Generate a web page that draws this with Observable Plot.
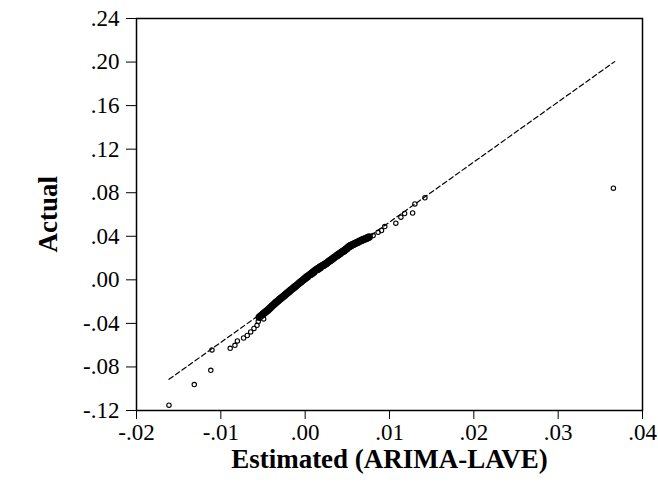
<!DOCTYPE html>
<html><head>
<meta charset="utf-8">
<script src="https://cdn.jsdelivr.net/npm/d3@7"></script>
<script src="https://cdn.jsdelivr.net/npm/@observablehq/plot@0.6"></script>
<style>body{margin:0;background:#fff}</style>
</head><body><div id="chart"></div>
<script>
// Lower tail (sparse points)
const lowerX = [-0.01615,-0.01315,-0.01119,-0.01105,-0.00889,-0.00833,-0.00804,-0.00730,-0.00687,-0.00646,-0.00607,-0.00571,-0.00556,-0.00492];
const lowerY = [-0.1151,-0.0962,-0.0831,-0.0644,-0.0629,-0.0601,-0.0561,-0.0534,-0.0511,-0.0478,-0.0446,-0.0418,-0.0382,-0.0359];
// Dense central body
const bodyX = [-0.00545,-0.00530,-0.00515,-0.00500,-0.00485,-0.00470,-0.00455,-0.00440,
 -0.00425,-0.00410,-0.00395,-0.00380,-0.00365,-0.00350,
 -0.00335,-0.00320,-0.00305,-0.00290,-0.00275,-0.00260,-0.00245,-0.00230,
 -0.00215,-0.00200,-0.00185,-0.00170,-0.00155,-0.00140,-0.00125,-0.00110,
 -0.00095,-0.00080,-0.00065,-0.00050,-0.00035,-0.00020,-0.00005,0.00010,
 0.00025,0.00040,0.00055,0.00070,0.00085,0.00100,0.00115,0.00130,
 0.00145,0.00160,0.00175,0.00190,0.00205,0.00220,0.00235,0.00250,
 0.00265,0.00280,0.00295,0.00310,0.00325,0.00340,0.00355,0.00370,
 0.00385,0.00400,0.00415,0.00430,0.00445,0.00460,0.00475,0.00490,
 0.00505,0.00520,0.00535,0.00550,0.00565,0.00580,0.00595,0.00610,0.00625,0.00640,
 0.00655,0.00670,0.00685,0.00700,0.00715,0.00730,0.00745,0.00760];
const bodyY = [-0.0343,-0.0333,-0.0324,-0.0314,-0.0305,-0.0295,-0.0286,-0.0276,
 -0.0265,-0.0254,-0.0243,-0.0232,-0.0221,-0.0211,
 -0.0201,-0.0191,-0.0181,-0.0172,-0.0162,-0.0152,-0.0143,-0.0133,
 -0.0123,-0.0114,-0.0104,-0.0094,-0.0085,-0.0075,-0.0066,-0.0056,
 -0.0046,-0.0037,-0.0027,-0.0017,-0.0008,0.0002,0.0011,0.0021,
 0.0030,0.0039,0.0048,0.0057,0.0066,0.0075,0.0084,0.0093,
 0.0100,0.0107,0.0115,0.0122,0.0129,0.0137,0.0144,0.0151,
 0.0160,0.0168,0.0177,0.0185,0.0194,0.0203,0.0211,0.0220,
 0.0228,0.0236,0.0244,0.0252,0.0260,0.0268,0.0276,0.0285,
 0.0295,0.0306,0.0313,0.0319,0.0324,0.0330,0.0335,0.0341,0.0346,0.0352,
 0.0358,0.0363,0.0368,0.0373,0.0378,0.0383,0.0389,0.0394];
// Upper tail (sparse points)
const upperX = [0.00806,0.00865,0.00905,0.00944,0.01075,0.01135,0.01179,0.01274,0.01301,0.01420,0.03655];
const upperY = [0.0406,0.0437,0.0453,0.0489,0.0520,0.0575,0.0609,0.0614,0.0697,0.0754,0.0842];
// Reference (dashed) line endpoints
const refLineX = [-0.01615, 0.0367];
const refLineY = [-0.0914, 0.2004];
// Ticks
const xTicks = [-0.02,-0.01,0,0.01,0.02,0.03,0.04];
const yTicks = [-0.12,-0.08,-0.04,0,0.04,0.08,0.12,0.16,0.20,0.24];
const xTitle = "Estimated (ARIMA-LAVE)";
const yTitle = "Actual";

const fmt = v => (v < -1e-9 ? "-" : "") + Math.abs(v).toFixed(2).replace(/^0/, "");
const toPts = (xs, ys) => xs.map((x, i) => ({x, y: ys[i]}));
const tails = toPts(lowerX, lowerY).concat(toPts(upperX, upperY));
const body = toPts(bodyX, bodyY);
const line = toPts(refLineX, refLineY);

const chart = Plot.plot({
  width: 658, height: 486,
  marginLeft: 136, marginRight: 16, marginTop: 18, marginBottom: 76,
  style: {fontFamily: "'Liberation Serif', serif", fontSize: "23px", color: "#000", background: "#fff"},
  x: {domain: [-0.02, 0.04]},
  y: {domain: [-0.12, 0.24]},
  marks: [
    Plot.axisX({ticks: xTicks, tickFormat: fmt, tickSize: 9, tickPadding: 4, label: null, fontSize: 23}),
    Plot.axisY({ticks: yTicks, tickFormat: fmt, tickSize: 10, tickPadding: 7, label: null, fontSize: 23}),
    Plot.line(line, {x: "x", y: "y", stroke: "#000", strokeWidth: 1.2, strokeDasharray: "5,3"}),
    Plot.dot(tails, {x: "x", y: "y", r: 2.2, stroke: "#000", fill: "none", strokeWidth: 1.1}),
    Plot.dot(body, {x: "x", y: "y", r: 2.7, stroke: "#000", fill: "none", strokeWidth: 2}),
    Plot.frame({stroke: "#000", strokeWidth: 1.5}),
    Plot.text([xTitle], {frameAnchor: "bottom", dy: 57, fontWeight: "bold", fontSize: 27, text: d => d}),
    Plot.text([yTitle], {frameAnchor: "left", dx: -88, dy: 38, rotate: -90, fontWeight: "bold", fontSize: 27, text: d => d})
  ]
});
document.getElementById("chart").appendChild(chart);
</script>
</body></html>
